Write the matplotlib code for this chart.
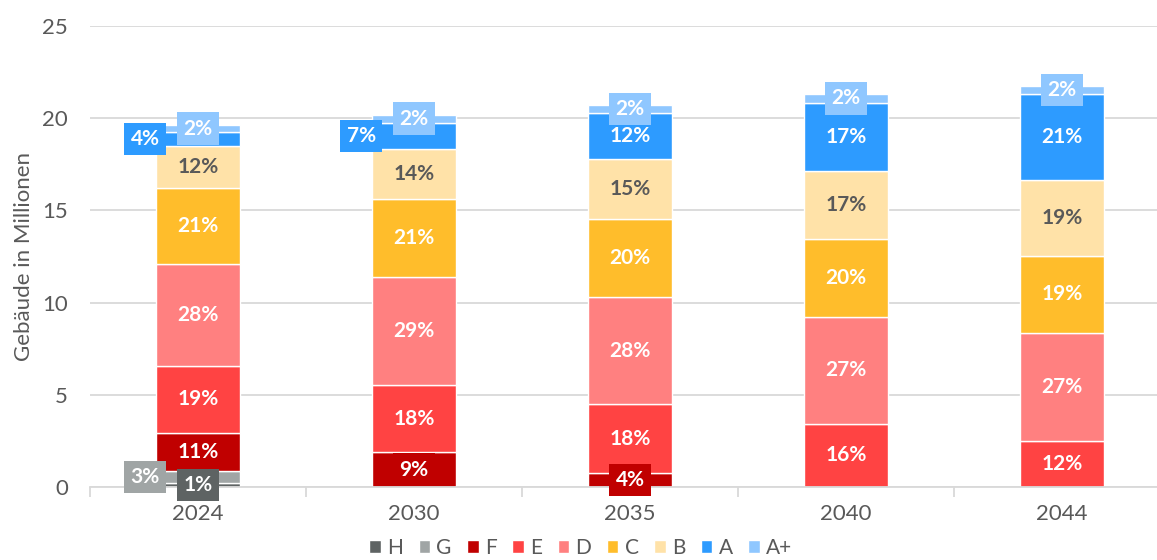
"""
Gebäudebestand nach Effizienzklasse (H .. A+) für 2024 bis 2044, gestapelte Säulen.
"""
import matplotlib
matplotlib.use("Agg")
import matplotlib.pyplot as plt
import numpy as np

plt.rcParams["font.family"] = ["Lato", "DejaVu Sans"]

years   = ["2024", "2030", "2035", "2040", "2044"]
classes = ["H", "G", "F", "E", "D", "C", "B", "A", "A+"]

# Gebäude in Millionen je Klasse
H_vals  = [0.20, 0.00, 0.00, 0.00, 0.00]
G_vals  = [0.67, 0.00, 0.00, 0.00, 0.00]
F_vals  = [2.07, 1.88, 0.78, 0.00, 0.00]
E_vals  = [3.64, 3.65, 3.70, 3.42, 2.49]
D_vals  = [5.53, 5.84, 5.84, 5.82, 5.88]
C_vals  = [4.12, 4.23, 4.21, 4.19, 4.17]
B_vals  = [2.28, 2.73, 3.24, 3.71, 4.09]
A_vals  = [0.73, 1.43, 2.50, 3.70, 4.67]
Ap_vals = [0.39, 0.43, 0.46, 0.46, 0.45]

# Prozentlabels wie im Original
H_pct  = ["1%", "", "", "", ""]
G_pct  = ["3%", "", "", "", ""]
F_pct  = ["11%", "9%", "4%", "", ""]
E_pct  = ["19%", "18%", "18%", "16%", "12%"]
D_pct  = ["28%", "29%", "28%", "27%", "27%"]
C_pct  = ["21%", "21%", "20%", "20%", "19%"]
B_pct  = ["12%", "14%", "15%", "17%", "19%"]
A_pct  = ["4%", "7%", "12%", "17%", "21%"]
Ap_pct = ["2%", "2%", "2%", "2%", "2%"]

COLORS = ["#5E6363", "#A0A5A5", "#C00000", "#FF4343", "#FF8080",
          "#FFBD2B", "#FFE2A8", "#2D9BFF", "#8FC7FF"]
GREY = "#595959"
GRID = "#D9D9D9"

# Labels, die neben die Säule geschoben sind: (Klasse, Jahr-Index)
SHIFTED = {("G", 0), ("A", 0), ("A", 1)}

series = [H_vals, G_vals, F_vals, E_vals, D_vals, C_vals, B_vals, A_vals, Ap_vals]
labels = [H_pct, G_pct, F_pct, E_pct, D_pct, C_pct, B_pct, A_pct, Ap_pct]

fig = plt.figure(figsize=(11.57, 5.6), dpi=100)
ax = fig.add_axes([90 / 1157, 73 / 560, 1080 / 1157, 461 / 560])

x = np.arange(len(years))
bottoms = np.zeros(len(years))
for name, vals, pcts, color in zip(classes, series, labels, COLORS):
    vals = np.array(vals)
    keep = vals > 0
    ax.bar(x[keep], vals[keep], width=0.39, bottom=bottoms[keep], color=color,
           edgecolor="white", linewidth=1, label=name, zorder=2)
    txt_color = GREY if name == "B" else "white"
    for i, p in enumerate(pcts):
        if not p:
            continue
        xc = x[i] - 0.245 if (name, i) in SHIFTED else x[i]
        ax.text(xc, bottoms[i] + vals[i] / 2, p, ha="center", va="center",
                fontsize=15, fontweight="bold", color=txt_color, zorder=5,
                bbox=dict(boxstyle="square,pad=0.3", fc=color, ec="none"))
    bottoms += vals

ax.set_xlim(-0.5, 4.5)
ax.set_ylim(0, 25)
ax.set_yticks(range(0, 26, 5))
ax.set_xticks(x)
ax.set_xticklabels(years)
ax.set_xticks(np.arange(-0.5, 5, 1), minor=True)
ax.tick_params(axis="x", which="major", length=0, pad=12, labelsize=16, labelcolor=GREY)
ax.tick_params(axis="x", which="minor", length=7, color=GRID, width=1.3)
ax.tick_params(axis="y", length=0, pad=16, labelsize=16, labelcolor=GREY)
ax.yaxis.grid(True, color=GRID, linewidth=1.3, zorder=0)
ax.set_axisbelow(True)
for s in ("top", "right", "left"):
    ax.spines[s].set_visible(False)
ax.spines["bottom"].set_color(GRID)
ax.spines["bottom"].set_linewidth(1.3)
ax.set_ylabel("Gebäude in Millionen", fontsize=16, color=GREY, labelpad=6)

fig.legend(loc="center", bbox_to_anchor=(0.502, 0.022), ncol=9, frameon=False,
           fontsize=15, labelcolor=GREY, handlelength=0.55, handleheight=0.55,
           handletextpad=0.3, columnspacing=0.75, borderpad=0)

fig.savefig("out.png", dpi=100)
